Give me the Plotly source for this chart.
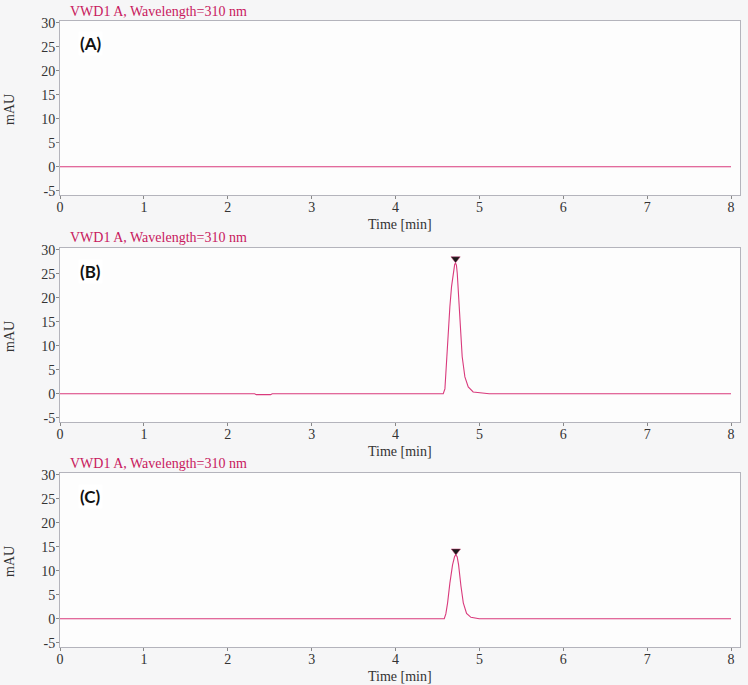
import plotly.graph_objects as go

# ---- data ----
time_a = [0.0, 8.0]
mau_a = [0.0, 0.0]

time_b = [0.0, 2.32, 2.34, 2.51, 2.53, 4.50, 4.569, 4.589, 4.609, 4.628, 4.648, 4.668, 4.688, 4.705, 4.716,
          4.726, 4.736, 4.760, 4.776, 4.795, 4.827, 4.867, 4.926, 5.046, 5.117, 8.0]
mau_b = [0.0, 0.0, -0.2, -0.2, 0.0, 0.0, 0.0, 1.0, 7.0, 13.2, 18.1, 22.3, 25.5, 26.9, 27.2,
         26.8, 25.1, 18.1, 12.6, 7.7, 3.5, 1.4, 0.35, 0.07, 0.0, 0.0]

time_c = [0.0, 2.36, 2.38, 2.47, 2.49, 4.50, 4.581, 4.60, 4.621, 4.648, 4.680, 4.705, 4.720, 4.735, 4.752, 4.780,
          4.808, 4.847, 4.899, 4.998, 8.0]
mau_c = [0.0, 0.0, -0.15, -0.15, 0.0, 0.0, 0.0, 1.0, 3.3, 7.4, 11.2, 13.0, 13.3, 12.9, 11.2, 6.8,
         3.3, 1.1, 0.28, 0.0, 0.0]

peak_time_b = [4.716]
peak_mark_b = [28.1]
peak_time_c = [4.72]
peak_mark_c = [14.1]

panel_labels = ["(A)", "(B)", "(C)"]
signal_title = "VWD1 A, Wavelength=310 nm"
x_title = "Time [min]"
y_title = "mAU"
x_ticks = [0, 1, 2, 3, 4, 5, 6, 7, 8]
y_ticks = [-5, 0, 5, 10, 15, 20, 25, 30]
y_tick_text = ["-5", "0", "5", "10", "15", "20", "25", "30"]

# ---- layout geometry (pixels) ----
W, H = 748, 685
panels = [(21, 195), (248, 422), (473, 647)]  # top, bottom of plot area
x_left, x_right = 60, 740

LINE = "#d93a7c"
AXC = "#b4b4bc"
SERIF = "Liberation Serif, Times New Roman, serif"
FS = 14

fig = go.Figure()
series = [(time_a, mau_a, None, None), (time_b, mau_b, peak_time_b, peak_mark_b),
          (time_c, mau_c, peak_time_c, peak_mark_c)]

for i, (tx, ty, px, py) in enumerate(series):
    xa = "x" if i == 0 else f"x{i+1}"
    ya = "y" if i == 0 else f"y{i+1}"
    fig.add_trace(go.Scatter(x=tx, y=ty, mode="lines", line=dict(color=LINE, width=1.1),
                             xaxis=xa, yaxis=ya, showlegend=False, hoverinfo="skip"))
    if px is not None:
        fig.add_trace(go.Scatter(x=px, y=py, mode="markers",
                                 marker=dict(symbol="triangle-down", size=8, color="#1a1a1a",
                                             line=dict(color="#c0306a", width=0.5)),
                                 xaxis=xa, yaxis=ya, showlegend=False, hoverinfo="skip"))

layout = dict(width=W, height=H, margin=dict(l=0, r=0, t=0, b=0, autoexpand=False),
              paper_bgcolor="#f6f6f7", plot_bgcolor="#fdfdfd",
              font=dict(family=SERIF, size=FS, color="#333333"), showlegend=False)

annotations = []
for i, (top, bot) in enumerate(panels):
    sfx = "" if i == 0 else str(i + 1)
    dom_y = [1 - bot / H, 1 - top / H]
    axis_common = dict(showgrid=False, zeroline=False, showline=True, linecolor=AXC, linewidth=1,
                       mirror=True, ticks="outside", ticklen=3, tickcolor="#888888", automargin=False,
                       tickfont=dict(family=SERIF, size=FS, color="#333333"))
    layout["xaxis" + sfx] = dict(axis_common, domain=[x_left / W, x_right / W], range=[0, 8.107],
                                 tickvals=x_ticks, anchor="y" + sfx, ticklabelstandoff=-4)
    layout["yaxis" + sfx] = dict(axis_common, domain=dom_y, range=[-5.9, 30.35], tickvals=y_ticks,
                                 ticktext=y_tick_text, anchor="x" + sfx, ticklabelstandoff=-2)
    annotations.append(dict(text=signal_title, xref="paper", yref="paper", x=68 / W, y=1 - (top - 10) / H,
                            xanchor="left", yanchor="middle", showarrow=False,
                            font=dict(family=SERIF, size=FS, color="#c8185e")))
    annotations.append(dict(text="<b>" + panel_labels[i] + "</b>", xref="paper", yref="paper",
                            x=78 / W, y=1 - (top + 23) / H, xanchor="left", yanchor="middle",
                            showarrow=False, bgcolor="#ffffff",
                            font=dict(family="Lato, Open Sans, sans-serif", size=17, color="#111111")))
    annotations.append(dict(text=x_title, xref="paper", yref="paper", x=400 / W, y=1 - (bot + 29) / H,
                            xanchor="center", yanchor="middle", showarrow=False,
                            font=dict(family=SERIF, size=FS, color="#333333")))
    annotations.append(dict(text=y_title, xref="paper", yref="paper", x=9 / W, y=1 - ((top + bot) / 2 + 2) / H,
                            xanchor="center", yanchor="middle", showarrow=False, textangle=-90,
                            font=dict(family=SERIF, size=FS, color="#333333")))

layout["annotations"] = annotations
fig.update_layout(**layout)
fig.write_html("out.html", config={"displayModeBar": False},
               post_script="document.body.style.margin='0';document.body.style.background='#f6f6f7';")
